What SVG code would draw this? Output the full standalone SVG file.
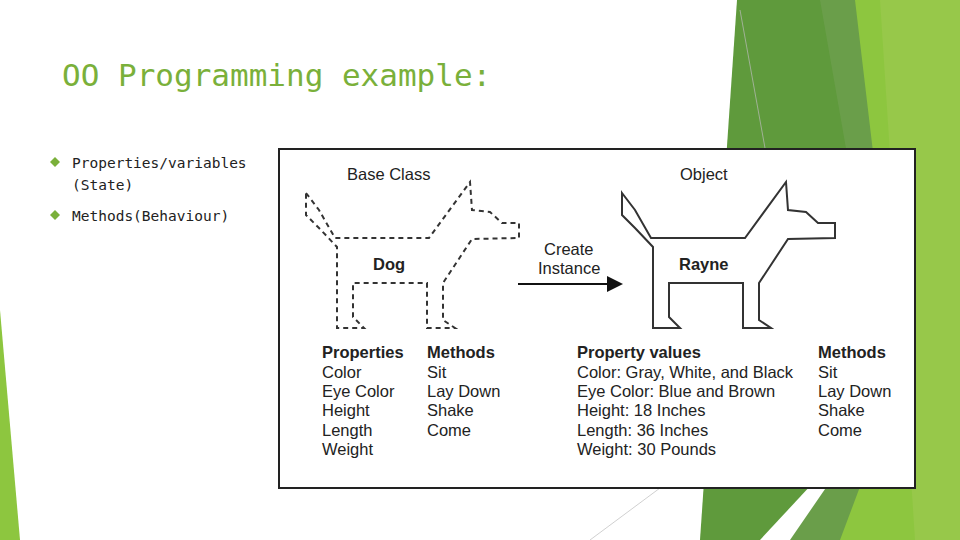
<svg xmlns="http://www.w3.org/2000/svg" width="960" height="540" viewBox="0 0 960 540">
<style>
.t{font-family:"DejaVu Sans Mono",monospace}
.p{font-family:"Liberation Sans",Arial,sans-serif;font-size:16.5px;fill:#222}
.b{font-weight:bold}
.dog{fill:none;stroke:#333;stroke-width:2}
</style>
<defs>
<marker id="ah" markerWidth="8" markerHeight="8" refX="7" refY="4" orient="auto"><path d="M0,0 L8,4 L0,8 Z" fill="#111"/></marker>
<path id="dogshape" d="M306,193 L319,210 L335,238 L429,238 L470,182 L472,210 L490,212 L502,223 L519,223 L519,238 L472,239 L443,283 L443,320 L455,328 L427,328 L427,283 L353,283 L353,317 L364,328 L337,328 L337,247 L319,228 L306,215 Z"/>
</defs>
<rect width="960" height="540" fill="#fff"/>
<g id="background">
<polygon points="0,310 20,540 0,540" fill="#8dc63f"/>
<polygon points="737,0 860,0 900,300 870,540 790,540 900,380" fill="#6a9e4a"/>
<polygon points="737,0 820,0 890,400 760,540 700,540" fill="#5f9a3c"/>
<polygon points="855,0 960,0 960,540 840,540 900,380" fill="#8dc63f"/>
<polygon points="880,0 960,0 960,540 915,540" fill="#97c84a"/>
<line x1="740" y1="10" x2="765" y2="148" stroke="#bbb" stroke-width="0.7"/>
<line x1="590" y1="540" x2="660" y2="488" stroke="#bbb" stroke-width="0.7"/>
</g>
<g id="title"><text class="t" x="62" y="86" font-size="31" fill="#7ab03a">OO Programming example:</text></g>
<g id="bullets" class="t" font-size="14.5" fill="#222">
<path d="M55,157 L60,162 L55,167 L50,162 Z" fill="#7ab03a"/>
<text x="72" y="168">Properties/variables</text>
<text x="72" y="190">(State)</text>
<path d="M55,210 L60,215 L55,220 L50,215 Z" fill="#7ab03a"/>
<text x="72" y="221">Methods(Behaviour)</text>
</g>
<g id="picture">
<rect x="279" y="149" width="636" height="339" fill="#fff" stroke="#222" stroke-width="2"/>
<text class="p" x="347" y="180">Base Class</text>
<text class="p" x="680" y="180">Object</text>
<g id="dog"><use href="#dogshape" class="dog" stroke-dasharray="5,4"/><text class="p b" x="373" y="270">Dog</text></g>
<g id="rayne"><use href="#dogshape" class="dog" transform="translate(316,0)"/><text class="p b" x="679" y="270">Rayne</text></g>
<g id="connectors"><line x1="518" y1="284" x2="621" y2="284" stroke="#111" stroke-width="2" marker-end="url(#ah)"/></g>
<text class="p" x="544" y="255">Create</text>
<text class="p" x="538" y="274">Instance</text>
<g class="p">
<text class="b" x="322" y="358">Properties</text>
<text x="322" y="378">Color</text><text x="322" y="397">Eye Color</text><text x="322" y="416">Height</text><text x="322" y="436">Length</text><text x="322" y="455">Weight</text>
<text class="b" x="427" y="358">Methods</text>
<text x="427" y="378">Sit</text><text x="427" y="397">Lay Down</text><text x="427" y="416">Shake</text><text x="427" y="436">Come</text>
<text class="b" x="577" y="358">Property values</text>
<text x="577" y="378">Color: Gray, White, and Black</text><text x="577" y="397">Eye Color: Blue and Brown</text><text x="577" y="416">Height: 18 Inches</text><text x="577" y="436">Length: 36 Inches</text><text x="577" y="455">Weight: 30 Pounds</text>
<text class="b" x="818" y="358">Methods</text>
<text x="818" y="378">Sit</text><text x="818" y="397">Lay Down</text><text x="818" y="416">Shake</text><text x="818" y="436">Come</text>
</g>
</g>
</svg>
